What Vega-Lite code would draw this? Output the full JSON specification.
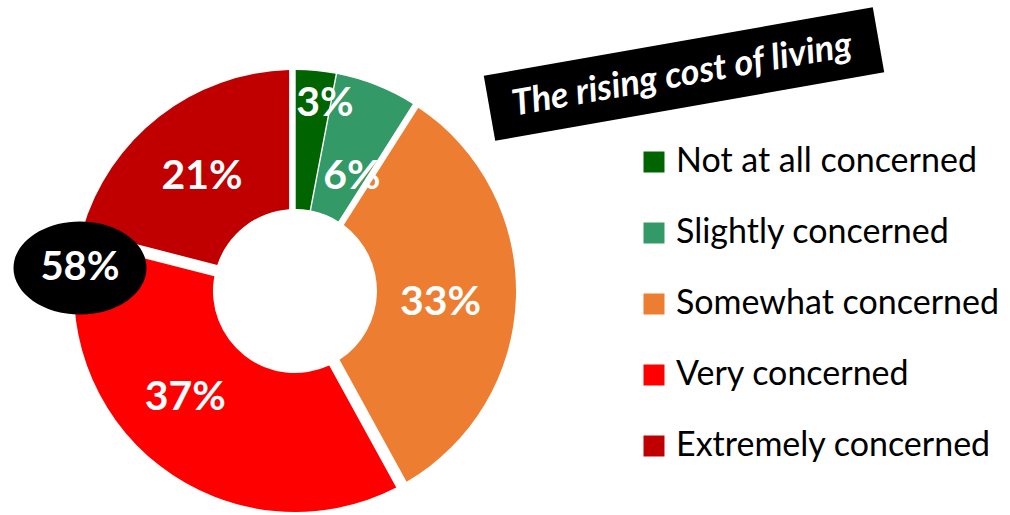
{
  "$schema": "https://vega.github.io/schema/vega-lite/v6.json",
  "width": 590,
  "height": 446,
  "autosize": {"type": "none"},
  "padding": {"left": 0, "top": 68, "right": 420, "bottom": 1},
  "background": "white",
  "config": {"view": {"stroke": null}, "font": "Lato"},
  "data": {"values": [
    {"category": "Not at all concerned", "pct": 3, "label": "3%", "ord": 1},
    {"category": "Slightly concerned", "pct": 6, "label": "6%", "ord": 2},
    {"category": "Somewhat concerned", "pct": 33, "label": "33%", "ord": 3},
    {"category": "Very concerned", "pct": 37, "label": "37%", "ord": 4},
    {"category": "Extremely concerned", "pct": 21, "label": "21%", "ord": 5}
  ]},
  "layer": [
    {
      "transform": [
        {"stack": "pct", "groupby": [], "sort": [{"field": "ord", "order": "ascending"}], "as": ["t0", "t1"]},
        {"filter": "datum.ord <= 2"}
      ],
      "mark": {"type": "arc", "outerRadius": 221, "innerRadius": 82, "padAngle": 0.006},
      "encoding": {
        "theta": {"field": "t0", "type": "quantitative", "scale": {"domain": [0, 100]}},
        "theta2": {"field": "t1"},
        "color": {
          "field": "category", "type": "nominal",
          "scale": {
            "domain": ["Not at all concerned", "Slightly concerned", "Somewhat concerned", "Very concerned", "Extremely concerned"],
            "range": ["#006400", "#339966", "#ED7D31", "#FF0000", "#C00000"]
          },
          "legend": {
            "orient": "none", "legendX": 637, "legendY": 77, "title": null, "padding": 0,
            "symbolType": "square", "symbolSize": 441, "symbolStrokeWidth": 0, "symbolOpacity": 1,
            "labelFont": "Lato", "labelFontSize": 34, "labelColor": "#000000", "labelOffset": 5,
            "rowPadding": 37, "labelLimit": 400
          }
        }
      }
    },
    {
      "transform": [
        {"stack": "pct", "groupby": [], "sort": [{"field": "ord", "order": "ascending"}], "as": ["t0", "t1"]},
        {"filter": "datum.ord >= 3"}
      ],
      "mark": {"type": "arc", "outerRadius": 221, "innerRadius": 82, "padAngle": 0.05},
      "encoding": {
        "theta": {"field": "t0", "type": "quantitative", "scale": {"domain": [0, 100]}},
        "theta2": {"field": "t1"},
        "color": {"field": "category", "type": "nominal"}
      }
    },
    {
      "data": {"values": [{"note": "58%"}]},
      "mark": {"type": "point", "shape": "M-1,0A1,0.7,0,1,1,1,0A1,0.7,0,1,1,-1,0Z", "size": 17689, "filled": true, "fill": "#000000", "opacity": 1, "strokeWidth": 0, "x": 80, "y": 200},
      "encoding": {}
    },
    {
      "data": {"values": [{"note": "58%"}]},
      "mark": {"type": "text", "font": "Lato", "fontWeight": "bold", "fontSize": 40, "fill": "#FFFFFF", "align": "center", "baseline": "middle", "x": 80, "y": 200},
      "encoding": {"text": {"field": "note", "type": "nominal"}}
    },
    {
      "data": {"values": [{"title": "The rising cost of living"}]},
      "mark": {"type": "point", "shape": "M-1,-0.167L1,-0.167L1,0.167L-1,0.167Z", "size": 156025, "angle": -10, "filled": true, "fill": "#000000", "opacity": 1, "strokeWidth": 0, "x": 684, "y": 6},
      "encoding": {}
    },
    {
      "data": {"values": [{"title": "The rising cost of living"}]},
      "mark": {"type": "text", "font": "Lato", "fontWeight": "bold", "fontStyle": "italic", "fontSize": 36, "fill": "#FFFFFF", "align": "center", "baseline": "middle", "angle": -10, "x": 682, "y": 7},
      "encoding": {"text": {"field": "title", "type": "nominal"}}
    },
    {
      "mark": {"type": "text", "font": "Lato", "fontWeight": "bold", "fontSize": 41, "fill": "#FFFFFF", "align": "center", "baseline": "middle", "radius": 189, "thetaOffset": 0.065},
      "encoding": {
        "theta": {"field": "pct", "type": "quantitative", "stack": true, "scale": {"domain": [0, 100]}},
        "order": {"field": "ord", "type": "quantitative"},
        "detail": {"field": "category", "type": "nominal"},
        "text": {"condition": {"test": "datum.ord == 1", "field": "label", "type": "nominal"}, "value": ""}
      }
    },
    {
      "mark": {"type": "text", "font": "Lato", "fontWeight": "bold", "fontSize": 41, "fill": "#FFFFFF", "align": "center", "baseline": "middle", "radius": 127, "thetaOffset": 0.087},
      "encoding": {
        "theta": {"field": "pct", "type": "quantitative", "stack": true, "scale": {"domain": [0, 100]}},
        "order": {"field": "ord", "type": "quantitative"},
        "detail": {"field": "category", "type": "nominal"},
        "text": {"condition": {"test": "datum.ord == 2", "field": "label", "type": "nominal"}, "value": ""}
      }
    },
    {
      "mark": {"type": "text", "font": "Lato", "fontWeight": "bold", "fontSize": 41, "fill": "#FFFFFF", "align": "center", "baseline": "middle", "radius": 146, "thetaOffset": 0.05},
      "encoding": {
        "theta": {"field": "pct", "type": "quantitative", "stack": true, "scale": {"domain": [0, 100]}},
        "order": {"field": "ord", "type": "quantitative"},
        "detail": {"field": "category", "type": "nominal"},
        "text": {"condition": {"test": "datum.ord == 3", "field": "label", "type": "nominal"}, "value": ""}
      }
    },
    {
      "mark": {"type": "text", "font": "Lato", "fontWeight": "bold", "fontSize": 41, "fill": "#FFFFFF", "align": "center", "baseline": "middle", "radius": 153, "thetaOffset": 0.14},
      "encoding": {
        "theta": {"field": "pct", "type": "quantitative", "stack": true, "scale": {"domain": [0, 100]}},
        "order": {"field": "ord", "type": "quantitative"},
        "detail": {"field": "category", "type": "nominal"},
        "text": {"condition": {"test": "datum.ord == 4", "field": "label", "type": "nominal"}, "value": ""}
      }
    },
    {
      "mark": {"type": "text", "font": "Lato", "fontWeight": "bold", "fontSize": 41, "fill": "#FFFFFF", "align": "center", "baseline": "middle", "radius": 147, "thetaOffset": -0.024},
      "encoding": {
        "theta": {"field": "pct", "type": "quantitative", "stack": true, "scale": {"domain": [0, 100]}},
        "order": {"field": "ord", "type": "quantitative"},
        "detail": {"field": "category", "type": "nominal"},
        "text": {"condition": {"test": "datum.ord == 5", "field": "label", "type": "nominal"}, "value": ""}
      }
    }
  ]
}
